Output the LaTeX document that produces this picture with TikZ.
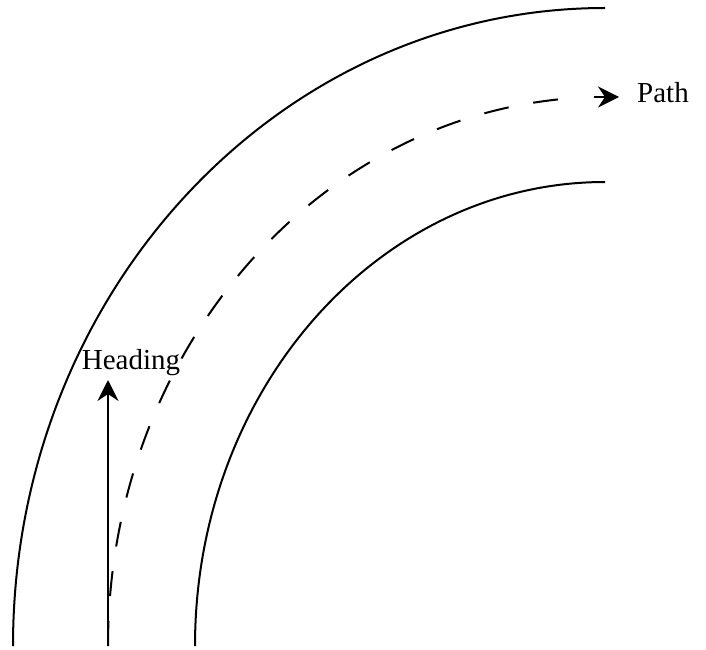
\documentclass[tikz,border=0pt]{standalone}
\usepackage{fontspec}
\setmainfont{Liberation Serif}
\usetikzlibrary{arrows.meta}
\begin{document}
\begin{tikzpicture}[x=1pt,y=1pt,
  road/.style={line width=2pt},
  pathline/.style={line width=2pt, dash pattern=on 25pt off 25pt},
  arr/.style={line width=2pt, -{Stealth[length=21pt,width=21pt,inset=7pt]}},
  lbl/.style={font=\fontsize{29}{34}\selectfont, inner sep=0pt}]
\useasboundingbox (0,0) rectangle (706,649);
% road edges (quarter ellipses centred at (605,3))
\draw[road] (13,3) arc[start angle=180, end angle=90, x radius=592pt, y radius=638pt];
\draw[road] (195,3) arc[start angle=180, end angle=90, x radius=410pt, y radius=464pt];
% dashed path
\draw[pathline] (108,3) arc[start angle=180, end angle=94, x radius=497pt, y radius=549pt];
\coordinate (pa) at (594,552);
\coordinate (pb) at (619,552);
\draw[arr] (pa) -- (pb);
\node[lbl, anchor=base west] (path) at (637,546) {Path};
% heading
\coordinate (ha) at (108,3);
\coordinate (hb) at (108,269);
\draw[arr] (ha) -- (hb);
\node[lbl, anchor=base] (heading) at (131,280) {Heading};
\end{tikzpicture}
\end{document}
